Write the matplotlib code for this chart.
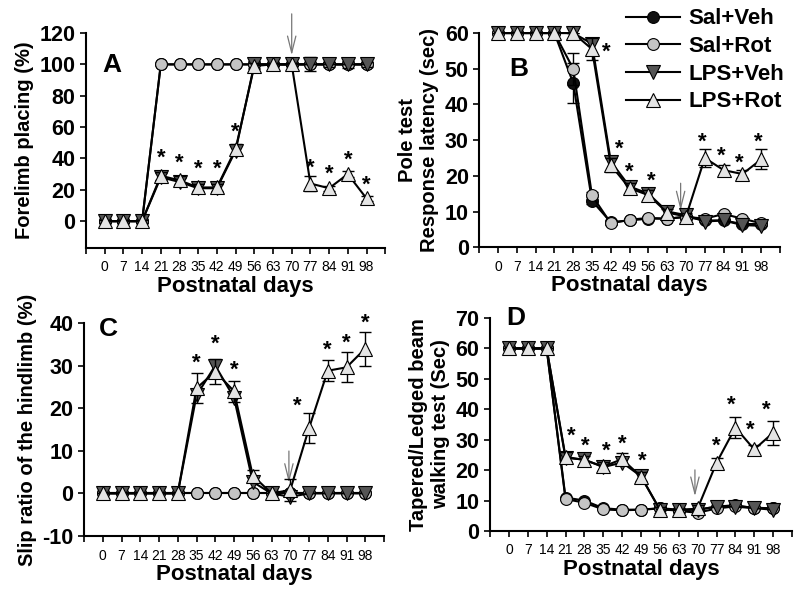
import numpy as np
import matplotlib.pyplot as plt

plt.rcParams['font.family'] = ['Liberation Sans', 'DejaVu Sans']
plt.rcParams['font.weight'] = 'bold'

days = [0, 7, 14, 21, 28, 35, 42, 49, 56, 63, 70, 77, 84, 91, 98]
groups = ['Sal+Veh', 'Sal+Rot', 'LPS+Veh', 'LPS+Rot']

# A: forelimb placing (%)
a_sal_veh = [0, 0, 0, 100, 100, 100, 100, 100, 100, 100, 100, 100, 100, 100, 100]
a_sal_rot = [0, 0, 0, 100, 100, 100, 100, 100, 100, 100, 100, 100, 100, 100, 100]
a_lps_veh = [0, 0, 0, 28, 25, 21, 21, 45, 100, 100, 100, 100, 100, 100, 100]
a_lps_rot = [0, 0, 0, 29, 26, 21.5, 21.5, 46, 99, 100, 100, 24, 21, 30, 14.5]
a_err = [1, 1, 1, 2.5, 2.5, 2.5, 2.5, 3, 2, 1, 1, 4.5, 1.5, 2, 1.5]

# B: pole test (sec)
b_sal_veh = [60, 60, 60, 60, 46, 13, 7, 7.5, 8, 8, 8.5, 7.5, 7.5, 6.5, 6.5]
b_sal_rot = [60, 60, 60, 60, 50, 14.5, 6.7, 7.7, 8.2, 8, 8.5, 8, 9.3, 8, 6.7]
b_lps_veh = [60, 60, 60, 60, 60, 57, 24, 17, 15, 10, 9, 7.2, 7.5, 6.2, 6]
b_lps_rot = [60, 60, 60, 60, 60, 55.5, 23, 16.5, 14.6, 9.7, 8.6, 25, 21.6, 20.5, 24.6]
b_err_sv = [0, 0, 0, 0, 5.5, 1, 0.5, 0.5, 0.5, 0.5, 0.5, 0.5, 0.5, 0.5, 0.5]
b_err_sr = [0, 0, 0, 0, 4.5, 1, 0.5, 0.5, 0.5, 0.5, 0.5, 0.5, 0.5, 0.5, 0.5]
b_err_lr = [0, 0, 0, 0, 0, 3, 2, 1.5, 1.5, 1, 1, 2.5, 1.5, 1, 2.8]

# C: slip ratio of the hindlimb (%)
c_sal_veh = [0] * 15
c_sal_rot = [0] * 15
c_lps_veh = [0, 0, 0, 0, 0, 23, 30, 22.5, 2.7, 0, -0.8, 0, 0, 0, 0]
c_lps_rot = [0, 0, 0, 0, 0, 24.7, 28.6, 24, 4.2, 0, 0.8, 15.3, 28.8, 29.6, 34]
c_err = [0, 0, 0, 0, 0, 3.5, 3, 2.5, 1.2, 0, 2.5, 3.5, 2.5, 3.5, 4]

# D: tapered/ledged beam walking (sec)
d_sal_veh = [60, 60, 60, 11, 10, 7.5, 7, 7, 7.5, 7, 7, 8, 8.5, 7.5, 7.5]
d_sal_rot = [60, 60, 60, 10.5, 9.3, 7.1, 6.8, 7, 7.4, 6.6, 6, 7.4, 8.1, 7.7, 7.4]
d_lps_veh = [60, 60, 60, 24, 23.5, 21, 22.5, 18, 7, 7, 7, 8, 8, 7.5, 7]
d_lps_rot = [60, 60, 60, 24.4, 23.3, 21.2, 23.6, 17.9, 7, 6.8, 7.4, 22.4, 34, 26.8, 32.3]
d_err = [0, 0, 0, 1.5, 1.5, 1.5, 2, 1.5, 1, 0.5, 1, 1.5, 3.5, 1.5, 4]

styles = {
    'Sal+Veh': dict(marker='o', mfc='#111111', ms=8.5),
    'Sal+Rot': dict(marker='o', mfc='#c4c4c4', ms=8.5),
    'LPS+Veh': dict(marker='v', mfc='#555555', ms=9.5),
    'LPS+Rot': dict(marker='^', mfc='#e4e4e4', ms=9.5),
}


def draw(ax, series, errs, ylim, yticks, letter, letter_pos, ylabel, stars,
         arrow):
    for z, (name, vals) in enumerate(zip(groups, series)):
        st = styles[name]
        e = errs[z]
        if e is not None:
            ax.errorbar(days, vals, yerr=e, fmt='none', ecolor='black',
                        elinewidth=1, capsize=4, capthick=1, zorder=2 + z)
        ax.plot(days, vals, color='black', lw=1.5, marker=st['marker'],
                mfc=st['mfc'], mec='black', mew=0.8, ms=st['ms'], zorder=2 + z,
                clip_on=False)
    for sx, sy in stars:
        ax.text(sx, sy, '*', fontsize=16, ha='center', va='center')
    ax.annotate('', xy=(arrow[0], arrow[2]), xytext=(arrow[0], arrow[1]),
                arrowprops=dict(arrowstyle='->,head_length=1.2,head_width=0.3',
                                color='#777777', lw=0.9),
                annotation_clip=False)
    ax.set_xlim(-7, 105)
    ax.set_ylim(*ylim)
    ticks = list(range(-7, 106, 7))
    ax.set_xticks(ticks)
    ax.set_xticklabels([str(t) if 0 <= t <= 98 else '' for t in ticks],
                       fontsize=10, fontweight='normal')
    ax.set_yticks(yticks)
    ax.set_yticklabels([str(t) for t in yticks], fontsize=15.5,
                       fontweight='bold')
    ax.spines['top'].set_visible(False)
    ax.spines['right'].set_visible(False)
    ax.spines['left'].set_linewidth(1.5)
    ax.spines['bottom'].set_linewidth(1.5)
    ax.tick_params(direction='out', length=4, width=1.2)
    ax.tick_params(axis='x', pad=5)
    ax.set_xlabel('Postnatal days', fontsize=16, fontweight='bold', labelpad=1)
    ax.set_ylabel(ylabel, fontsize=14.5, fontweight='bold', labelpad=4)
    ax.text(letter_pos[0], letter_pos[1], letter, transform=ax.transAxes,
            fontsize=19, fontweight='bold', va='center')


fig = plt.figure(figsize=(8, 5.9), dpi=100)
axA = fig.add_axes([0.1075, 0.58, 0.374, 0.364])
axB = fig.add_axes([0.599, 0.581, 0.376, 0.363])
axC = fig.add_axes([0.105, 0.0915, 0.375, 0.361])
axD = fig.add_axes([0.6125, 0.1, 0.3775, 0.361])

draw(axA, [a_sal_veh, a_sal_rot, a_lps_veh, a_lps_rot],
     [None, None, a_err, a_err], (-17, 120), list(range(0, 121, 20)), 'A',
     (0.055, 0.85), 'Forelimb placing (%)',
     [(21, 40), (28, 37), (35, 33), (42, 33), (49, 57), (77, 34), (84, 30),
      (91, 39), (98, 23)],
     (70, 134, 104))

draw(axB, [b_sal_veh, b_sal_rot, b_lps_veh, b_lps_rot],
     [b_err_sv, b_err_sr, None, b_err_lr], (0, 60), list(range(0, 61, 10)), 'B',
     (0.10, 0.83), 'Pole test\nResponse latency (sec)',
     [(40.5, 54.5), (45, 27.5), (49, 21), (57, 18.5), (76, 29.5), (83, 25.5),
      (90, 23.5), (97, 29.5)],
     (68, 18.7, 9.5))

draw(axC, [c_sal_veh, c_sal_rot, c_lps_veh, c_lps_rot],
     [None, None, None, c_err], (-10, 40), list(range(-10, 41, 10)), 'C',
     (0.05, 0.97), 'Slip ratio of the hindlimb (%)',
     [(35, 30.5), (42, 35), (49, 29), (72.5, 20.5), (84, 33.5), (91, 35.3),
      (98, 40)],
     (69.5, 10.6, 1.8))

draw(axD, [d_sal_veh, d_sal_rot, d_lps_veh, d_lps_rot],
     [None, None, None, d_err], (0, 70), list(range(0, 71, 10)), 'D',
     (0.055, 1.0), 'Tapered/Ledged beam\nwalking test (Sec)',
     [(23, 31), (28.5, 28), (36, 26.3), (42, 28.5), (49.5, 23), (77, 27.8),
      (82.5, 41.5), (89.5, 33), (95.5, 39.8)],
     (69, 21, 10.5))
axB.yaxis.label.set_multialignment('center')
axD.yaxis.label.set_multialignment('center')

handles = []
for name in groups:
    st = styles[name]
    h, = axA.plot([], [], color='black', lw=1.5, marker=st['marker'],
                  mfc=st['mfc'], mec='black', mew=0.8, ms=st['ms'])
    handles.append(h)
fig.legend(handles, groups, loc='upper right', bbox_to_anchor=(1.0, 1.012),
           frameon=False, prop={'weight': 'bold', 'size': 16},
           handlelength=2.4, labelspacing=0.3, handletextpad=0.4,
           borderpad=0.2)

fig.savefig('out.png', dpi=100)
